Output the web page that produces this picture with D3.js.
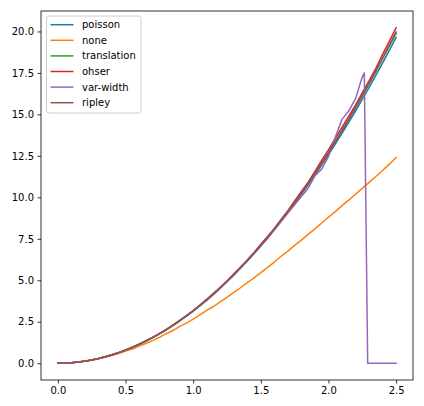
<!DOCTYPE html>
<html>
<head>
<meta charset="utf-8">
<script src="https://cdn.jsdelivr.net/npm/d3@7"></script>
<style>
  body { margin: 0; background: #fff; }
  svg { display: block; }
  text { font-family: "DejaVu Sans", sans-serif; font-size: 10px; fill: #000; }
</style>
</head>
<body>
<svg id="chart"></svg>
<script>
// radius values shared by most series
const rVals = [0, 0.05, 0.1, 0.15, 0.2, 0.25, 0.3, 0.35, 0.4, 0.45, 0.5, 0.55, 0.6, 0.65, 0.7, 0.75, 0.8, 0.85, 0.9, 0.95,
    1.0, 1.05, 1.1, 1.15, 1.2, 1.25, 1.3, 1.35, 1.4, 1.45, 1.5, 1.55, 1.6, 1.65, 1.7, 1.75, 1.8, 1.85, 1.9, 1.95,
    2.0, 2.05, 2.1, 2.15, 2.2, 2.25, 2.3, 2.35, 2.4, 2.45, 2.5];

const poisson = [0, 0.008, 0.031, 0.071, 0.126, 0.196, 0.283, 0.385, 0.503, 0.636, 0.785, 0.95, 1.131, 1.327, 1.539, 1.767, 2.011, 2.27, 2.545, 2.835,
    3.142, 3.464, 3.801, 4.155, 4.524, 4.909, 5.309, 5.726, 6.158, 6.605, 7.069, 7.548, 8.042, 8.553, 9.079, 9.621, 10.179, 10.752, 11.341, 11.946,
    12.566, 13.203, 13.854, 14.522, 15.205, 15.904, 16.619, 17.349, 18.096, 18.857, 19.635];

const none = [0, 0.008, 0.03, 0.068, 0.121, 0.186, 0.266, 0.362, 0.47, 0.59, 0.73, 0.86, 1.04, 1.19, 1.36, 1.56, 1.78, 1.97, 2.22, 2.42,
    2.66, 2.92, 3.18, 3.42, 3.7, 3.97, 4.27, 4.55, 4.86, 5.15, 5.46, 5.78, 6.1, 6.45, 6.76, 7.1, 7.42, 7.77, 8.1, 8.45,
    8.8, 9.14, 9.5, 9.83, 10.19, 10.54, 10.9, 11.26, 11.62, 12.0, 12.4];

const translation = [0, 0.008, 0.031, 0.072, 0.127, 0.197, 0.285, 0.388, 0.507, 0.64, 0.79, 0.955, 1.14, 1.335, 1.55, 1.775, 2.02, 2.285, 2.56, 2.85,
    3.16, 3.48, 3.82, 4.18, 4.55, 4.93, 5.34, 5.76, 6.19, 6.64, 7.11, 7.59, 8.09, 8.6, 9.13, 9.68, 10.25, 10.83, 11.43, 12.04,
    12.67, 13.33, 14.0, 14.69, 15.39, 16.1, 16.83, 17.58, 18.34, 19.11, 19.88];

const ohser = [0, 0.008, 0.032, 0.072, 0.128, 0.198, 0.286, 0.39, 0.508, 0.643, 0.795, 0.96, 1.15, 1.35, 1.55, 1.78, 2.03, 2.3, 2.58, 2.87,
    3.16, 3.5, 3.86, 4.22, 4.58, 4.96, 5.38, 5.8, 6.22, 6.68, 7.17, 7.64, 8.12, 8.66, 9.2, 9.78, 10.36, 10.92, 11.56, 12.22,
    12.86, 13.55, 14.22, 14.9, 15.56, 16.3, 17.02, 17.78, 18.62, 19.4, 20.22];

const ripley = [0, 0.008, 0.031, 0.072, 0.127, 0.197, 0.285, 0.388, 0.506, 0.64, 0.79, 0.96, 1.14, 1.34, 1.55, 1.78, 2.03, 2.29, 2.57, 2.86,
    3.17, 3.49, 3.84, 4.19, 4.56, 4.94, 5.35, 5.77, 6.2, 6.65, 7.12, 7.6, 8.1, 8.62, 9.15, 9.7, 10.27, 10.85, 11.45, 12.07,
    12.7, 13.36, 14.03, 14.72, 15.42, 16.14, 16.88, 17.63, 18.4, 19.18, 19.96];

// var-width has its own radius grid around the drop
const varR = [0, 0.05, 0.1, 0.15, 0.2, 0.25, 0.3, 0.35, 0.4, 0.45, 0.5, 0.55, 0.6, 0.65, 0.7, 0.75, 0.8, 0.85, 0.9, 0.95,
    1.0, 1.05, 1.1, 1.15, 1.2, 1.25, 1.3, 1.35, 1.4, 1.45, 1.5, 1.55, 1.6, 1.65, 1.7, 1.75, 1.8, 1.85, 1.9, 1.95,
    2.0, 2.05, 2.1, 2.15, 2.2, 2.25, 2.265, 2.29, 2.35, 2.4, 2.45, 2.5];
const varWidth = [0, 0.008, 0.032, 0.072, 0.128, 0.198, 0.285, 0.39, 0.51, 0.645, 0.8, 0.97, 1.16, 1.35, 1.55, 1.77, 2.0, 2.28, 2.57, 2.86,
    3.15, 3.47, 3.79, 4.13, 4.52, 4.93, 5.34, 5.78, 6.2, 6.64, 7.08, 7.52, 8.05, 8.55, 9.05, 9.55, 10.05, 10.55, 11.3, 11.7,
    12.45, 13.6, 14.7, 15.2, 15.95, 17.25, 17.5, 0, 0, 0, 0, 0];

const xTicks = [0, 0.5, 1.0, 1.5, 2.0, 2.5];
const yTicks = [0, 2.5, 5, 7.5, 10, 12.5, 15, 17.5, 20];

const series = [
    { name: "poisson", x: rVals, y: poisson, color: "#1f77b4" },
    { name: "none", x: rVals, y: none, color: "#ff7f0e" },
    { name: "translation", x: rVals, y: translation, color: "#2ca02c" },
    { name: "ohser", x: rVals, y: ohser, color: "#d62728" },
    { name: "var-width", x: varR, y: varWidth, color: "#9467bd" },
    { name: "ripley", x: rVals, y: ripley, color: "#8c564b" }
];

const width = 424, height = 406;
const margin = { left: 41, right: 11, top: 11, bottom: 26 };

const svg = d3.select("#chart")
    .attr("width", width)
    .attr("height", height);

const x = d3.scaleLinear()
    .domain([-0.125, 2.625])
    .range([margin.left, width - margin.right]);

const y = d3.scaleLinear()
    .domain([-1.011, 21.233])
    .range([height - margin.bottom, margin.top]);

// lines
const line = d3.line()
    .x(d => x(d[0]))
    .y(d => y(d[1]));

svg.append("g")
    .selectAll("path")
    .data(series)
    .enter().append("path")
    .attr("d", s => line(s.x.map((v, i) => [v, s.y[i]])))
    .attr("fill", "none")
    .attr("stroke", s => s.color)
    .attr("stroke-width", 1.5)
    .attr("stroke-linejoin", "round")
    .attr("stroke-linecap", "square");

// axes
const xAxis = svg.append("g")
    .attr("transform", `translate(0, ${height - margin.bottom})`)
    .call(d3.axisBottom(x).tickValues(xTicks).tickFormat(d3.format(".1f")).tickSize(3.5).tickPadding(3.5));

const yAxis = svg.append("g")
    .attr("transform", `translate(${margin.left}, 0)`)
    .call(d3.axisLeft(y).tickValues(yTicks).tickFormat(d3.format(".1f")).tickSize(3.5).tickPadding(3.5));

[xAxis, yAxis].forEach(a => {
    a.select(".domain").remove();
    a.selectAll(".tick line").attr("stroke", "#000").attr("stroke-width", 0.8);
    a.selectAll(".tick text").attr("font-family", "DejaVu Sans").attr("font-size", 10).attr("fill", "#000");
});

// frame
svg.append("rect")
    .attr("x", margin.left)
    .attr("y", margin.top)
    .attr("width", width - margin.left - margin.right)
    .attr("height", height - margin.top - margin.bottom)
    .attr("fill", "none")
    .attr("stroke", "#000")
    .attr("stroke-width", 0.8);

// legend
const legend = svg.append("g")
    .attr("transform", "translate(46.5, 16)");

legend.append("rect")
    .attr("width", 94.5)
    .attr("height", 97)
    .attr("rx", 2.5)
    .attr("fill", "#fff")
    .attr("fill-opacity", 0.8)
    .attr("stroke", "#cccccc")
    .attr("stroke-width", 1);

const items = legend.selectAll("g.item")
    .data(series)
    .enter().append("g")
    .attr("class", "item")
    .attr("transform", (d, i) => `translate(0, ${8.7 + i * 15.6})`);

items.append("line")
    .attr("x1", 4)
    .attr("x2", 27)
    .attr("stroke", d => d.color)
    .attr("stroke-width", 1.5);

items.append("text")
    .attr("x", 35.5)
    .attr("dy", "0.35em")
    .text(d => d.name);
</script>
</body>
</html>
